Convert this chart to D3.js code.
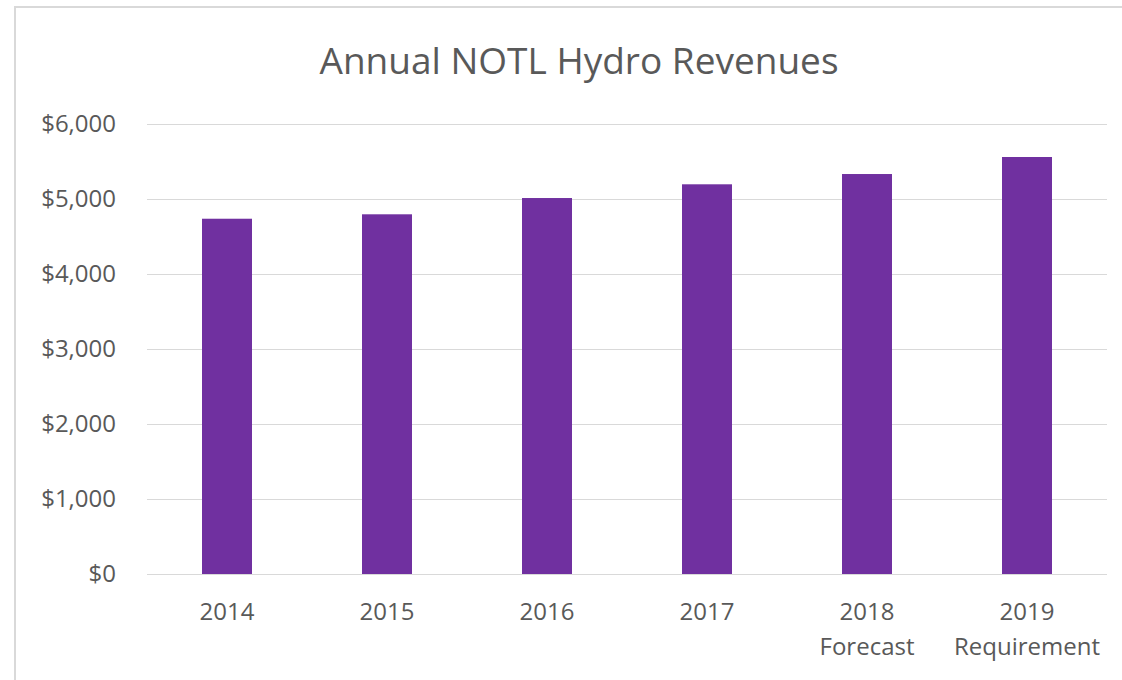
<!DOCTYPE html>
<html>
<head>
<meta charset="utf-8">
<script src="https://cdn.jsdelivr.net/npm/d3@7"></script>
<style>
  html, body { margin: 0; padding: 0; background: #fff; }
  svg text { font-family: "Open Sans", Lato, sans-serif; fill: #595959; }
</style>
</head>
<body>
<div id="chart"></div>
<script>
const years = ['2014', '2015', '2016', '2017', '2018', '2019'];
const subLabels = ['', '', '', '', 'Forecast', 'Requirement'];
const revenues = [4737, 4796, 5013, 5196, 5333, 5560];
const yTicks = [0, 1000, 2000, 3000, 4000, 5000, 6000];

const W = 1122, H = 680;
const margin = { top: 124, right: 15, bottom: 106, left: 147 };

const svg = d3.select('#chart').append('svg')
  .attr('width', W).attr('height', H);

// chart frame (only left + top edge fall inside the window)
svg.append('rect')
  .attr('x', 15).attr('y', 7)
  .attr('width', W + 20).attr('height', H + 20)
  .attr('fill', 'none')
  .attr('stroke', '#d9d9d9')
  .attr('stroke-width', 2);

const x = d3.scaleBand()
  .domain(years)
  .range([margin.left, W - margin.right])
  .paddingInner(0.6875)
  .paddingOuter(0.34375);

const y = d3.scaleLinear()
  .domain([0, 6000])
  .range([H - margin.bottom, margin.top]);

// gridlines
svg.append('g')
  .selectAll('line')
  .data(yTicks)
  .join('line')
  .attr('x1', margin.left).attr('x2', W - margin.right)
  .attr('y1', d => Math.round(y(d)) + 0.5).attr('y2', d => Math.round(y(d)) + 0.5)
  .attr('stroke', '#d9d9d9')
  .attr('stroke-width', 1);

// y axis labels
const fmt = d3.format('$,');
svg.append('g')
  .selectAll('text')
  .data(yTicks)
  .join('text')
  .attr('x', 116)
  .attr('y', d => y(d))
  .attr('dy', '0.35em')
  .attr('text-anchor', 'end')
  .attr('font-size', '24px')
  .text(d => fmt(d));

// bars
svg.append('g')
  .selectAll('rect')
  .data(revenues)
  .join('rect')
  .attr('x', (d, i) => x(years[i]))
  .attr('width', x.bandwidth())
  .attr('y', d => y(d))
  .attr('height', d => y(0) - y(d))
  .attr('fill', '#7030a0');

// x axis labels
const xl = svg.append('g')
  .selectAll('g')
  .data(years)
  .join('g')
  .attr('transform', d => `translate(${x(d) + x.bandwidth() / 2},0)`);

xl.append('text')
  .attr('y', 612)
  .attr('dy', '0.35em')
  .attr('text-anchor', 'middle')
  .attr('font-size', '24px')
  .text(d => d);

xl.append('text')
  .attr('y', 647)
  .attr('dy', '0.35em')
  .attr('text-anchor', 'middle')
  .attr('font-size', '24px')
  .text((d, i) => subLabels[i]);

// title
svg.append('text')
  .attr('x', 579)
  .attr('y', 61)
  .attr('dy', '0.35em')
  .attr('text-anchor', 'middle')
  .attr('font-size', '37px')
  .text('Annual NOTL Hydro Revenues');
</script>
</body>
</html>
